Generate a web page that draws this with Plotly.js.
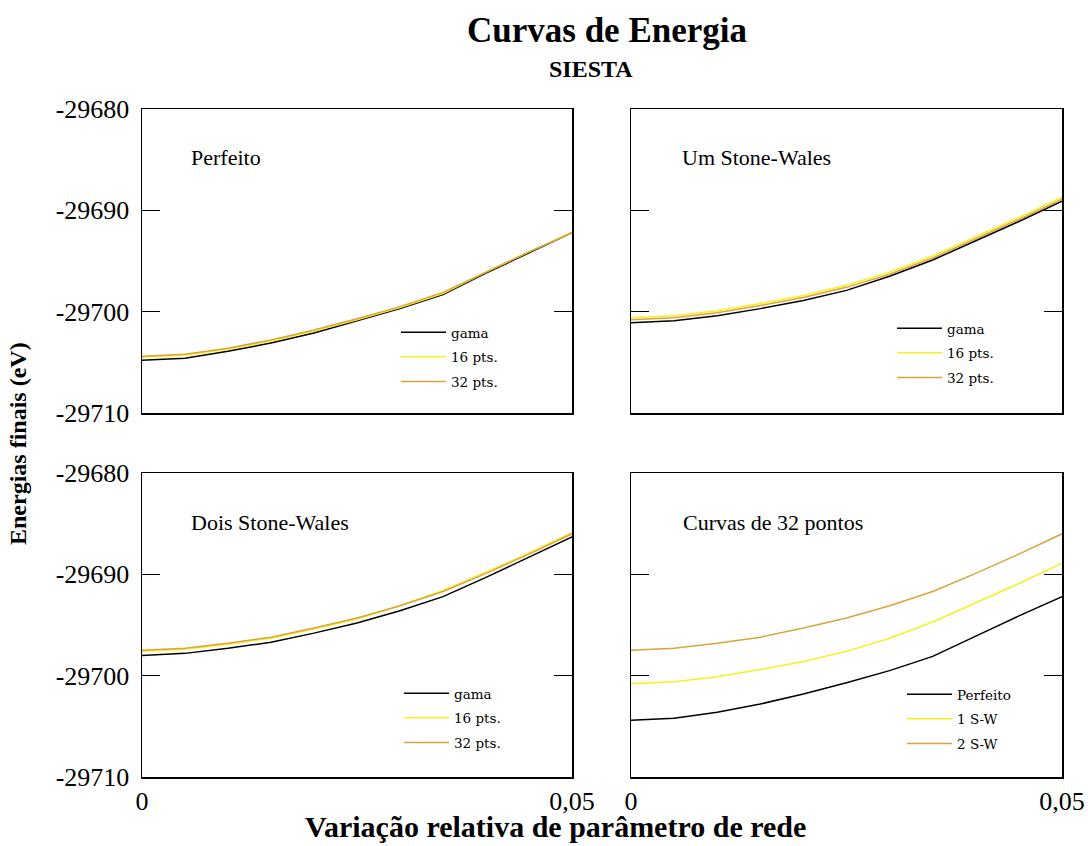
<!DOCTYPE html>
<html>
<head>
<meta charset="utf-8">
<script src="https://cdn.plot.ly/plotly-3.0.1.min.js"></script>
<style>html,body{margin:0;padding:0;background:#fff;}#chart{width:1088px;height:846px;}</style>
</head>
<body>
<div id="chart"></div>
<script>
// ---- data ----
var strain = [0, 0.005, 0.01, 0.015, 0.02, 0.025, 0.03, 0.035, 0.04, 0.045, 0.05];

// Perfeito
var perf_gama = [-29704.8, -29704.6, -29703.9, -29703.1, -29702.1, -29700.9, -29699.7, -29698.3, -29696.2, -29694.2, -29692.2];
var perf_16   = [-29704.5, -29704.3, -29703.7, -29702.9, -29701.9, -29700.8, -29699.6, -29698.2, -29696.1, -29694.1, -29692.2];
var perf_32   = [-29704.4, -29704.2, -29703.6, -29702.8, -29701.8, -29700.7, -29699.5, -29698.1, -29696.1, -29694.1, -29692.2];

// Um Stone-Wales
var sw1_gama = [-29701.1, -29700.9, -29700.4, -29699.7, -29698.9, -29697.9, -29696.5, -29694.9, -29693.0, -29691.1, -29689.1];
var sw1_16   = [-29700.6, -29700.4, -29699.9, -29699.2, -29698.4, -29697.4, -29696.1, -29694.5, -29692.6, -29690.7, -29688.7];
var sw1_32   = [-29700.8, -29700.6, -29700.1, -29699.4, -29698.6, -29697.6, -29696.3, -29694.7, -29692.8, -29690.9, -29688.9];

// Dois Stone-Wales
var sw2_gama = [-29698.0, -29697.8, -29697.3, -29696.7, -29695.8, -29694.8, -29693.6, -29692.2, -29690.3, -29688.3, -29686.3];
var sw2_16   = [-29697.6, -29697.4, -29696.9, -29696.3, -29695.4, -29694.4, -29693.1, -29691.6, -29689.8, -29687.9, -29685.9];
var sw2_32   = [-29697.5, -29697.3, -29696.8, -29696.2, -29695.3, -29694.3, -29693.1, -29691.7, -29689.9, -29688.0, -29686.0];

var seriesNames = ["gama", "16 pts.", "32 pts."];
var compareNames = ["Perfeito", "1 S-W", "2 S-W"];
var panelTitles = ["Perfeito", "Um Stone-Wales", "Dois Stone-Wales", "Curvas de 32 pontos"];
var yTickVals = [-29710, -29700, -29690, -29680];
var yTickText = ["-29710", "-29700", "-29690", "-29680"];
var xTickVals = [0, 0.05];
var xTickText = ["0", "0,05"];

// ---- styling ----
var colors = ["#000000", "#f7f01e", "#dba33c"];
var W = 1088, H = 846;
function px(x) { return x / W; }
function py(y) { return 1 - y / H; }

var panels = [
  {ax: "", sets: [perf_gama, perf_16, perf_32], names: seriesNames},
  {ax: "2", sets: [sw1_gama, sw1_16, sw1_32], names: seriesNames},
  {ax: "3", sets: [sw2_gama, sw2_16, sw2_32], names: seriesNames},
  {ax: "4", sets: [perf_32, sw1_32, sw2_32], names: compareNames}
];

var traces = [];
panels.forEach(function (p, pi) {
  p.sets.forEach(function (ys, si) {
    traces.push({
      x: strain, y: ys, type: "scatter", mode: "lines",
      name: p.names[si],
      xaxis: "x" + p.ax, yaxis: "y" + p.ax,
      line: {color: colors[si], width: 1.5},
      legend: pi === 0 ? "legend" : "legend" + (pi + 1),
      legendgroup: "g" + pi + "_" + si,
      hoverinfo: "x+y"
    });
  });
});

var FONT = "'Liberation Serif', serif";
function xa(domain, labels) {
  return {
    domain: domain, range: [0, 0.05], showgrid: false, zeroline: false,
    showline: true, linecolor: "#000", linewidth: 1.5, mirror: true,
    ticks: "", tickvals: xTickVals, ticktext: xTickText,
    showticklabels: labels, tickfont: {family: FONT, size: 26, color: "#000"}
  };
}
function ya(domain, labels) {
  return {
    domain: domain, range: [-29710, -29680], showgrid: false, zeroline: false,
    showline: true, linecolor: "#000", linewidth: 1.5, mirror: "ticks",
    ticks: "inside", ticklen: 18, tickwidth: 1.5, tickcolor: "#000",
    tickvals: yTickVals, ticktext: yTickText,
    showticklabels: labels, ticklabelstandoff: 6,
    tickfont: {family: FONT, size: 26, color: "#000"}
  };
}

var dxL = [px(142), px(572)], dxR = [px(631), px(1062)];
var dyT = [py(413), py(109)], dyB = [py(777), py(473)];

function leg(x, y) {
  return {
    x: px(x), y: py(y), xanchor: "left", yanchor: "top",
    bgcolor: "rgba(0,0,0,0)", borderwidth: 0,
    font: {family: "'DejaVu Serif', serif", size: 13.5, color: "#000"},
    traceorder: "grouped", tracegroupgap: 4, itemwidth: 45
  };
}

var annotations = [
  {text: "<b>SIESTA</b>", x: px(591), y: py(69), xref: "paper", yref: "paper", xanchor: "center", yanchor: "middle",
   showarrow: false, font: {family: FONT, size: 24, color: "#000"}},
  {text: "<b>Energias finais (eV)</b>", x: px(18), y: py(444), xref: "paper", yref: "paper",
   xanchor: "center", yanchor: "middle",
   showarrow: false, textangle: -90, font: {family: FONT, size: 24, color: "#000"}},
  {text: "<b>Variação relativa de parâmetro de rede</b>", x: px(555), y: py(826), xref: "paper", yref: "paper",
   xanchor: "center", yanchor: "middle",
   showarrow: false, font: {family: FONT, size: 30, color: "#000"}}
];
var titlePos = [[189, 157], [680, 157], [189, 522], [681, 522]];
panelTitles.forEach(function (t, i) {
  annotations.push({text: t, x: px(titlePos[i][0]), y: py(titlePos[i][1]), xref: "paper", yref: "paper",
    xanchor: "left", yanchor: "middle", showarrow: false,
    font: {family: FONT, size: 22, color: "#000"}});
});

var layout = {
  width: W, height: H,
  margin: {l: 0, r: 0, t: 0, b: 0},
  paper_bgcolor: "#fff", plot_bgcolor: "#fff",
  separators: ",.",
  font: {family: FONT, color: "#000"},
  title: {text: "<b>Curvas de Energia</b>", x: px(607), xanchor: "center", y: py(30), yanchor: "middle",
          font: {family: FONT, size: 35, color: "#000"}},
  xaxis: xa(dxL, false), yaxis: ya(dyT, true),
  xaxis2: xa(dxR, false), yaxis2: ya(dyT, false),
  xaxis3: xa(dxL, true), yaxis3: ya(dyB, true),
  xaxis4: xa(dxR, true), yaxis4: ya(dyB, false),
  legend: leg(396, 317), legend2: leg(892, 313), legend3: leg(399, 678), legend4: leg(902, 679),
  annotations: annotations,
  showlegend: true
};
layout.xaxis.anchor = "y"; layout.yaxis.anchor = "x";
layout.xaxis2.anchor = "y2"; layout.yaxis2.anchor = "x2";
layout.xaxis3.anchor = "y3"; layout.yaxis3.anchor = "x3";
layout.xaxis4.anchor = "y4"; layout.yaxis4.anchor = "x4";

Plotly.newPlot("chart", traces, layout, {displayModeBar: false, staticPlot: true});
</script>
</body>
</html>
